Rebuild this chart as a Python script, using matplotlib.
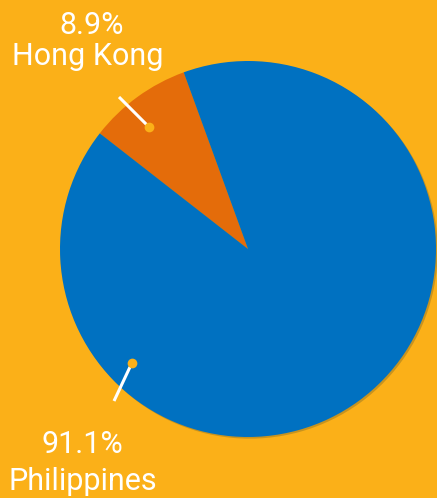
import matplotlib
matplotlib.use("Agg")
import matplotlib.pyplot as plt
import matplotlib.patheffects as pe

labels = ["Hong Kong", "Philippines"]
values = [8.9, 91.1]
colors = ["#E46C0A", "#0071C1"]
bg = "#FBB018"

W, H = 437, 498
cx, cy, R = 248, 249, 188

fig = plt.figure(figsize=(W / 100, H / 100), dpi=100)
fig.patch.set_facecolor(bg)
ax = fig.add_axes([0, 0, 1, 1])
ax.set_facecolor(bg)

wedges, _ = ax.pie(values, colors=colors, startangle=110, counterclock=True,
                   radius=1, center=(0, 0),
                   wedgeprops=dict(linewidth=0,
                                   path_effects=[pe.SimplePatchShadow(offset=(1.2, -1.2), alpha=0.2),
                                                 pe.Normal()]))
ax.set_xlim(-cx / R, (W - cx) / R)
ax.set_ylim(-(H - cy) / R, cy / R)
ax.set_aspect("equal")
ax.axis("off")


def P(px, py):
    return ((px - cx) / R, (cy - py) / R)


# leader lines and dots (pixel anchors)
leaders = [((119, 97), (147, 125), (149, 127)),
           ((114, 401), (130, 367), (132, 363))]
for (a, b, d) in leaders:
    x0, y0 = P(*a)
    x1, y1 = P(*b)
    ax.plot([x0, x1], [y0, y1], color="white", lw=2.2, solid_capstyle="butt", zorder=5)
    dx, dy = P(*d)
    ax.plot([dx], [dy], "o", color=bg, ms=7, mec="none", zorder=6)

texts = [("8.9%", (91.5, 34)), ("Hong Kong", (87.5, 65)),
         ("91.1%", (82.5, 453)), ("Philippines", (82.5, 490))]
for t, (px, py) in texts:
    x, y = P(px, py)
    ax.text(x, y, t, color="white", fontsize=22, family="Roboto",
            ha="center", va="baseline", zorder=7)

fig.savefig("out.png", dpi=100, facecolor=bg)
